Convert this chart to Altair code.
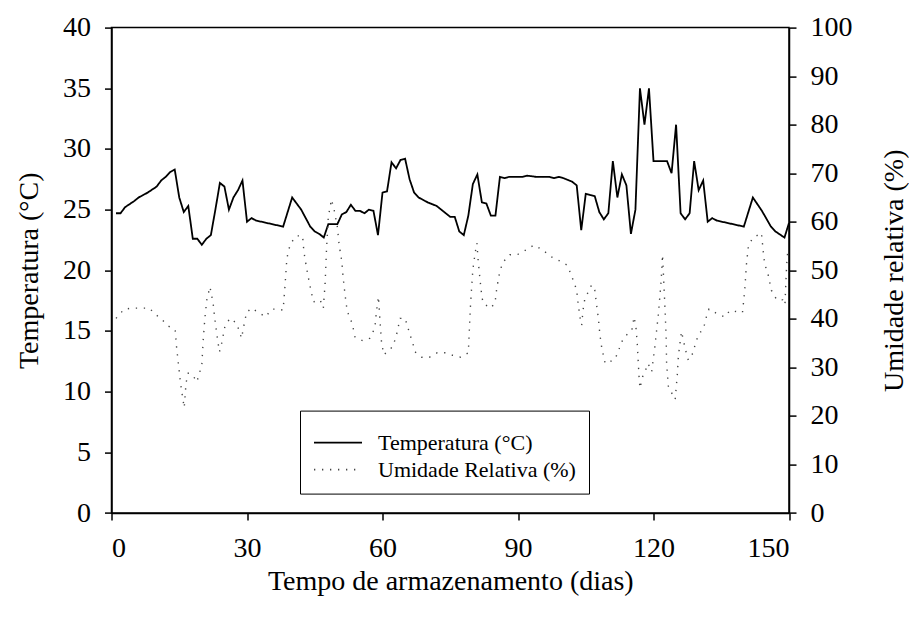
import altair as alt
import pandas as pd

# Storage temperature (°C), by storage day
temp_days = [1, 2, 3, 5, 6, 8, 10, 11, 12, 13, 14, 15, 16, 17, 18, 19, 20, 21, 22, 23,
             24, 25, 26, 27, 28, 29, 30, 31, 32, 38, 40, 42, 44, 45, 46, 47, 48, 50, 51, 52,
             53, 54, 55, 56, 57, 58, 59, 60, 61, 62, 63, 64, 65, 66, 67, 68, 70, 72, 73, 75,
             76, 77, 78, 79, 80, 81, 82, 83, 84, 85, 86, 87, 88, 91, 92, 94, 97, 98, 99, 100,
             102, 103, 104, 105, 106, 107, 108, 109, 110, 111, 112, 113, 114, 115, 116, 117, 118, 119, 120, 123,
             124, 125, 126, 127, 128, 129, 130, 131, 132, 133, 134, 140, 142, 144, 146, 147, 149, 150]
temp_vals = [24.7, 24.7, 25.2, 25.7, 26.0, 26.4, 26.9, 27.4, 27.7, 28.1, 28.3, 26.0, 24.8, 25.3, 22.6, 22.6, 22.1, 22.6, 22.9, 25.0,
             27.2, 26.9, 25.0, 26.0, 26.6, 27.4, 24.0, 24.3, 24.1, 23.6, 26.0, 25.0, 23.6, 23.2, 23.0, 22.7, 23.8, 23.8, 24.6, 24.8,
             25.4, 24.9, 24.9, 24.7, 25.0, 24.9, 22.9, 26.4, 26.5, 28.9, 28.4, 29.1, 29.2, 27.5, 26.4, 26.0, 25.6, 25.3, 25.0, 24.4,
             24.4, 23.2, 22.9, 24.5, 27.1, 27.9, 25.6, 25.5, 24.5, 24.5, 27.7, 27.6, 27.7, 27.7, 27.8, 27.7, 27.7, 27.6, 27.7, 27.6,
             27.3, 27.0, 23.3, 26.3, 26.2, 26.1, 24.8, 24.2, 24.7, 29.0, 26.0, 27.9, 27.0, 23.0, 25.0, 35.0, 32.0, 35.0, 29.0, 29.0,
             28.0, 32.0, 24.7, 24.2, 24.7, 29.0, 26.6, 27.4, 24.0, 24.3, 24.1, 23.6, 26.0, 24.9, 23.6, 23.2, 22.7, 23.9]

# Relative humidity (%), by storage day
rh_days = [1.0, 2.8, 4.7, 6.5, 8.4, 9.6, 10.9, 12.6, 14.1, 14.4, 14.8, 15.2, 15.5, 16.1, 16.5, 17.0, 18.0, 18.9, 19.4, 20.0,
           20.3, 20.7, 21.1, 21.8, 22.5, 22.9, 23.4, 23.9, 24.4, 25.1, 26.2, 27.7, 28.8, 29.2, 29.9, 31.0, 32.9, 34.1, 35.5, 36.9,
           38.0, 38.4, 38.8, 39.1, 39.7, 41.0, 42.3, 42.6, 43.2, 43.9, 44.7, 46.2, 46.9, 47.3, 47.6, 48.0, 48.7, 49.3, 50.0, 50.4,
           51.0, 51.3, 51.7, 52.2, 53.0, 53.5, 53.9, 55.6, 57.2, 58.3, 58.7, 59.1, 59.4, 59.8, 60.3, 62.3, 63.1, 63.9, 65.0, 66.1,
           66.7, 67.2, 68.7, 70.4, 72.1, 73.8, 75.5, 77.3, 79.0, 79.5, 80.0, 80.5, 80.9, 81.2, 81.6, 82.0, 82.3, 83.9, 84.9, 85.3,
           85.9, 86.6, 88.2, 89.8, 91.8, 93.5, 95.5, 97.1, 98.9, 100.8, 101.5, 102.2, 103.0, 103.3, 103.7, 104.1, 104.4, 104.8, 105.6, 106.3,
           107.0, 107.4, 107.8, 108.1, 108.5, 108.9, 109.3, 110.4, 111.5, 112.6, 113.3, 114.4, 115.2, 115.7, 116.1, 116.4, 116.6, 116.8, 117.0, 117.6,
           118.1, 118.8, 119.6, 120.3, 120.7, 121.1, 121.4, 121.7, 121.9, 122.0, 122.5, 122.8, 122.9, 123.3, 124.8, 125.3, 125.5, 125.9, 126.2, 127.0,
           127.7, 128.7, 129.4, 130.1, 130.9, 131.4, 131.8, 132.3, 134.0, 135.8, 136.9, 139.7, 140.2, 140.6, 141.0, 141.9, 143.9, 144.3, 144.6, 145.4,
           146.1, 147.3, 148.6, 149.1, 149.3, 149.5, 149.7]
rh_vals = [40.1, 42.0, 42.2, 42.2, 42.2, 41.0, 40.1, 38.5, 37.7, 34.3, 30.8, 27.4, 25.3, 21.7, 26.8, 28.8, 28.4, 27.0, 28.6, 30.5,
           35.6, 40.4, 43.9, 46.6, 43.2, 39.8, 36.3, 33.2, 35.0, 38.4, 40.1, 39.1, 36.0, 38.1, 41.3, 42.2, 41.1, 40.4, 42.0, 42.0,
           41.8, 46.6, 52.1, 53.8, 55.6, 57.1, 57.1, 53.8, 50.4, 47.0, 43.5, 43.9, 42.2, 47.3, 54.2, 61.0, 64.6, 62.4, 59.0, 55.2,
           51.8, 48.4, 45.0, 41.5, 39.8, 38.1, 36.3, 35.5, 36.0, 38.1, 41.8, 44.6, 40.1, 35.0, 32.6, 34.3, 36.7, 40.1, 40.1, 36.7,
           35.0, 33.2, 32.1, 32.1, 33.0, 33.0, 32.5, 32.1, 33.0, 43.2, 50.1, 53.5, 55.6, 51.8, 48.0, 44.6, 43.2, 42.2, 43.2, 46.3,
           49.4, 51.6, 53.2, 53.2, 54.2, 55.2, 54.2, 52.9, 52.1, 51.1, 49.7, 48.0, 45.9, 43.2, 40.4, 38.7, 41.8, 44.2, 45.6, 47.0,
           45.9, 42.9, 40.1, 37.0, 34.3, 32.5, 30.8, 31.2, 31.7, 34.3, 36.0, 37.0, 37.7, 40.4, 38.4, 35.0, 31.5, 28.1, 25.7, 28.1,
           29.1, 30.8, 29.1, 34.3, 37.7, 41.1, 44.6, 48.0, 51.4, 53.2, 43.2, 36.3, 30.8, 26.0, 23.4, 28.8, 32.2, 35.3, 37.4, 33.9,
           31.5, 32.9, 35.3, 37.0, 37.7, 39.1, 40.8, 42.0, 41.1, 40.4, 41.7, 41.3, 45.9, 51.4, 54.9, 56.6, 57.7, 53.8, 51.4, 49.0,
           45.9, 43.9, 43.9, 42.9, 47.3, 51.4, 53.6]

series_names = ["Temperatura (°C)", "Umidade Relativa (%)"]

temp_df = pd.DataFrame({"dia": temp_days, "valor": temp_vals})
rh_df = pd.DataFrame({"dia": rh_days, "valor": rh_vals})

FONT = "Liberation Serif"

x_enc = alt.X(
    "dia:Q",
    scale=alt.Scale(domain=[0, 150], nice=False, zero=False),
    axis=alt.Axis(
        values=[0, 30, 60, 90, 120, 150],
        title="Tempo de armazenamento (dias)",
        labelPadding=14,
        titleBaseline="alphabetic",
        titleY=76,
        titleX=338.75,
    ),
)

color_scale = alt.Scale(domain=series_names, range=["#000000", "#444444"])
dash_scale = alt.Scale(domain=series_names, range=[[1, 0], [1.3, 6.7]])

temp_line = alt.Chart(temp_df).mark_line(strokeWidth=1.8, strokeJoin="miter").encode(
    x=x_enc,
    y=alt.Y(
        "valor:Q",
        scale=alt.Scale(domain=[0, 40], nice=False),
        axis=alt.Axis(
            orient="left",
            values=[0, 5, 10, 15, 20, 25, 30, 35, 40],
            title="Temperatura (°C)",
            labelPadding=14,
            titleAngle=270,
            titleBaseline="alphabetic",
            titleAlign="center",
            titleX=-74,
            titleY=242.7,
        ),
    ),
    color=alt.Color(
        "serie:N",
        scale=color_scale,
        legend=alt.Legend(
            title=" ",
            titleFontSize=8,
            titlePadding=0,
            orient="none",
            legendX=188.5,
            legendY=383,
            strokeColor="black",
            padding=13,
            labelFont=FONT,
            labelFontSize=22,
            labelColor="black",
            labelLimit=400,
            labelOffset=15,
            symbolType="stroke",
            symbolSize=2304,
            symbolStrokeWidth=1.6,
            clipHeight=22,
            rowPadding=5,
        ),
    ),
    strokeDash=alt.StrokeDash("serie:N", scale=dash_scale, legend=None),
).transform_calculate(serie="'Temperatura (°C)'")

rh_line = alt.Chart(rh_df).mark_line(strokeWidth=1.4).encode(
    x=x_enc,
    y=alt.Y(
        "valor:Q",
        scale=alt.Scale(domain=[0, 100], nice=False),
        axis=alt.Axis(
            orient="right",
            values=[0, 10, 20, 30, 40, 50, 60, 70, 80, 90, 100],
            title="Umidade relativa (%)",
            labelPadding=14,
            titleAngle=270,
            titleBaseline="alphabetic",
            titleAlign="center",
            titleX=113,
            titleY=242.7,
        ),
    ),
    color=alt.Color("serie:N", scale=color_scale),
    strokeDash=alt.StrokeDash("serie:N", scale=dash_scale, legend=None),
).transform_calculate(serie="'Umidade Relativa (%)'")

chart = (
    alt.layer(temp_line, rh_line)
    .resolve_scale(y="independent")
    .properties(
        width=677.5,
        height=485.4,
        autosize=alt.AutoSizeParams(type="none"),
        padding={"left": 111.5, "top": 27.6, "right": 120, "bottom": 106},
        background="white",
    )
    .configure_view(stroke="black", strokeWidth=1.5)
    .configure_axis(
        grid=False,
        domainColor="black",
        domainWidth=1.5,
        tickColor="black",
        tickWidth=1.5,
        tickSize=7,
        labelFont=FONT,
        labelFontSize=28,
        labelColor="black",
        titleFont=FONT,
        titleFontSize=28,
        titleFontWeight="normal",
        titleColor="black",
    )
)

chart.save("out.html", embed_options={"renderer": "svg", "actions": False})
